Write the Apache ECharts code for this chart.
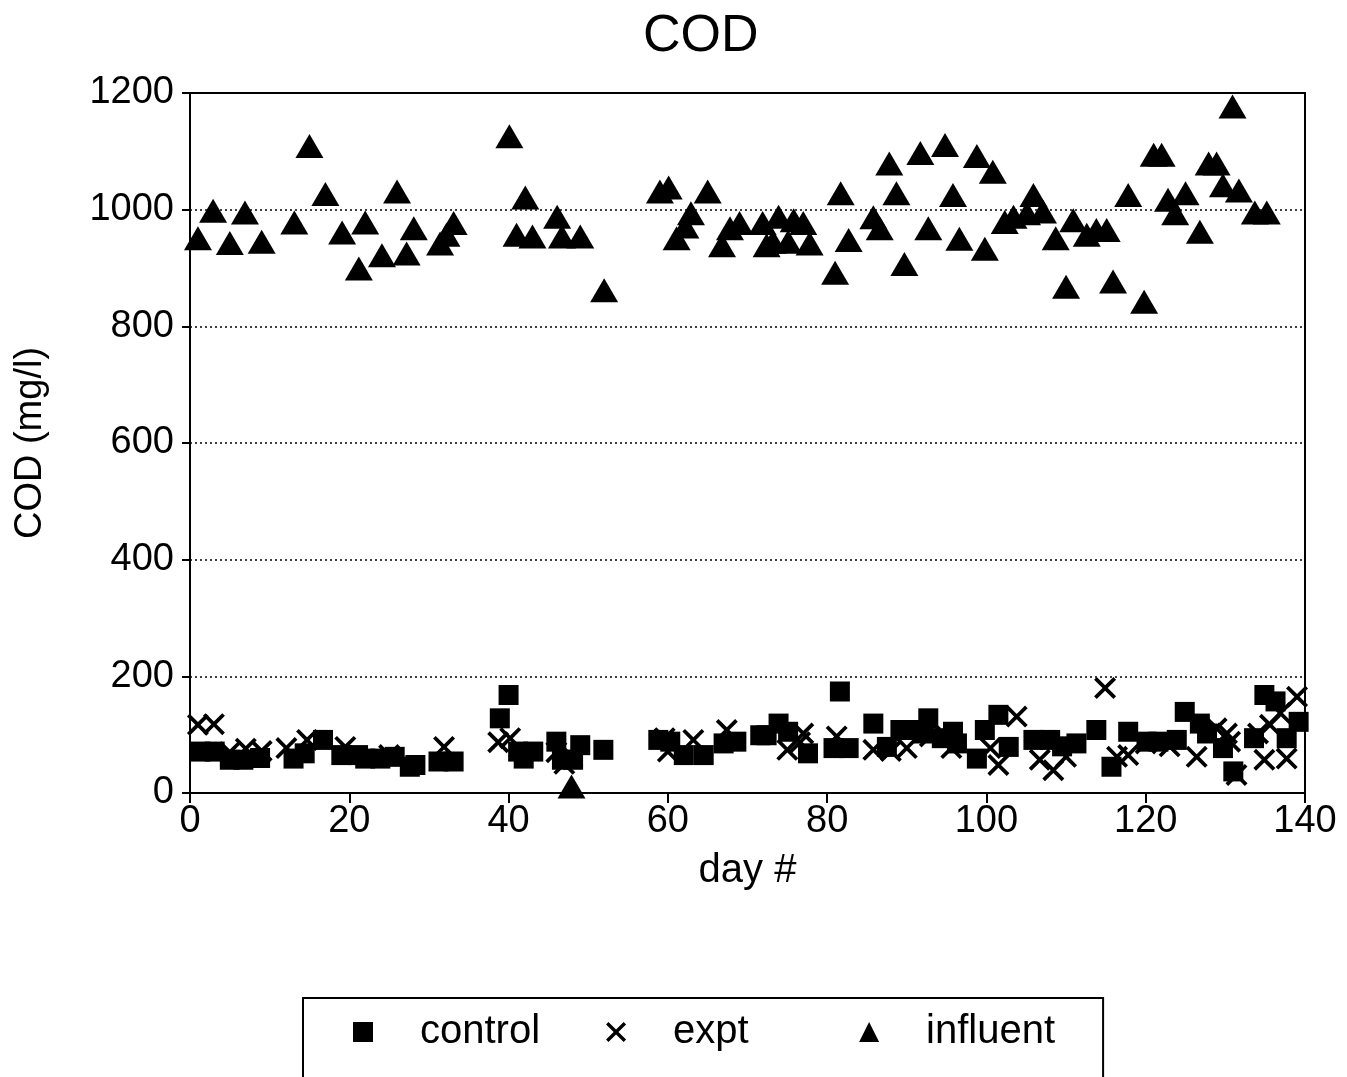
<!DOCTYPE html>
<html>
<head>
<meta charset="utf-8">
<script src="https://cdn.jsdelivr.net/npm/echarts@6/dist/echarts.min.js"></script>
<style>
html,body{margin:0;padding:0;background:#fff;}
#chart{width:1347px;height:1077px;}
</style>
</head>
<body>
<div id="chart"></div>
<script>
// ---- data ----
var xTicks = [0, 20, 40, 60, 80, 100, 120, 140];
var yTicks = [0, 200, 400, 600, 800, 1000, 1200];

var controlDays = [1.3,3.1,5,6.7,8.8,13,14.4,16.7,19,21.1,22,23.9,25.7,27.6,28.3,31.2,33.1,
  38.9,40,41.2,41.9,43.1,46,46.7,48.1,49,51.9,58.8,60.3,62,64.5,67,68.6,71.6,72.4,73.9,75.1,77.6,
  80.8,81.6,82.7,85.8,87.5,89.2,91,92.1,92.7,94.4,95.8,96.3,98.8,99.8,101.5,102.8,105.9,108,109.5,
  111.3,113.8,115.7,117.8,120.1,121.6,123.9,124.9,126.8,127.7,129.7,131,133.6,134.9,136.3,137.7,139.2];
var controlValues = [71,71,57,57,60,59,68,91,65,65,59,59,62,45,48,54,54,
  128,168,71,59,71,88,57,57,82,74,91,88,65,65,85,88,99,99,119,105,68,
  77,174,77,119,79,108,108,102,128,94,105,85,59,108,134,79,91,91,80,
  85,108,45,105,88,88,91,139,119,102,77,37,94,168,157,94,122];

var exptDays = [1,3,5,7,9,12.1,14.7,19.5,25,31.9,38.7,40.2,46,47,48,59.6,60,63.2,67.4,
  75,76.6,77,81.2,85.8,88,90,92.9,95.6,100.5,101.5,103.8,106.7,108.4,110,
  114.9,116.4,117.8,120,123,126.4,128.9,130.2,130.6,131.4,134.1,134.9,135.6,136.9,137.7,139];
var exptValues = [117,118,70,76,72,77,91,79,65,79,87,94,70,50,62,94,71,91,108,
  74,87,102,97,74,72,77,97,77,77,48,131,57,39,62,
  180,62,65,85,80,62,111,102,88,31,102,57,117,137,59,165];

var influentDays = [1,2.9,5,6.9,9,13.1,15,17,19.1,21.2,22,24.1,26,27.2,28.1,31.4,32.2,33.1,
  40.1,41,42.1,43,46.1,46.7,47.9,49,52,59,60.1,61.1,62.2,62.9,65,66.8,67.8,69,71.9,72.4,
  73.2,73.9,75.1,75.8,77,77.8,81,81.7,82.7,85.8,86.6,87.8,88.7,89.7,91.7,92.7,94.8,95.8,96.6,
  98.8,99.8,100.8,102.3,103.4,105.1,105.9,107.1,108.7,110,110.9,112.6,113.8,115.1,115.9,117.8,119.8,
  121,122,122.8,123.7,125,126.8,127.9,128.9,129.7,130.9,131.7,133.7,135.2];
var influentValues = [951,998,943,995,945,978,1109,1027,961,899,978,922,1031,925,968,942,957,977,
  1126,957,1021,954,988,954,11,954,862,1031,1038,951,971,994,1031,939,968,977,977,939,
  945,988,945,982,977,942,892,1028,948,987,968,1079,1028,907,1097,968,1111,1025,950,
  1092,933,1065,979,988,994,1025,997,951,868,982,957,965,965,877,1025,842,
  1094,1094,1017,994,1028,962,1079,1079,1042,1177,1033,995,995];

function pairs(xs, ys) { return xs.map(function (x, i) { return [x, ys[i]]; }); }

var FONT = 'Liberation Sans, Arial, Helvetica, sans-serif';
var crossPath = 'path://M0,1.2L1.2,0L5,3.8L8.8,0L10,1.2L6.2,5L10,8.8L8.8,10L5,6.2L1.2,10L0,8.8L3.8,5Z';

var chart = echarts.init(document.getElementById('chart'), null, {renderer: 'canvas'});
chart.setOption({
  animation: false,
  backgroundColor: '#fff',
  title: {
    text: 'COD', left: 638, top: 6,
    textStyle: {fontFamily: FONT, fontSize: 52, fontWeight: 'normal', color: '#000'}
  },
  grid: {
    left: 190, right: 42, top: 93, bottom: 284,
    show: true, borderColor: '#000', borderWidth: 2, backgroundColor: 'transparent'
  },
  xAxis: {
    type: 'value', min: 0, max: 140, interval: 20,
    name: 'day #', nameLocation: 'middle', nameGap: 58,
    nameTextStyle: {fontFamily: FONT, fontSize: 40, color: '#000'},
    axisLine: {show: true, onZero: false, lineStyle: {color: '#000', width: 2}},
    axisTick: {show: true, inside: false, length: 10, lineStyle: {color: '#000', width: 2}},
    axisLabel: {fontFamily: FONT, fontSize: 38, color: '#000', margin: 10,
      formatter: function (v) { return xTicks.indexOf(v) >= 0 ? String(v) : ''; }},
    splitLine: {show: false}
  },
  yAxis: {
    type: 'value', min: 0, max: 1200, interval: 200,
    name: 'COD (mg/l)', nameLocation: 'middle', nameGap: 140, nameRotate: 90,
    nameTextStyle: {fontFamily: FONT, fontSize: 38, color: '#000'},
    axisLine: {show: true, lineStyle: {color: '#000', width: 2}},
    axisTick: {show: true, inside: false, length: 8, lineStyle: {color: '#000', width: 2}},
    axisLabel: {fontFamily: FONT, fontSize: 38, color: '#000', margin: 16,
      formatter: function (v) { return yTicks.indexOf(v) >= 0 ? String(v) : ''; }},
    splitLine: {show: true, lineStyle: {color: '#000', width: 1.5, type: [2, 3]}}
  },
  legend: {
    left: 303, top: 998,
    orient: 'horizontal',
    borderColor: '#000', borderWidth: 2,
    padding: [14, 48, 60, 50],
    itemWidth: 20, itemHeight: 20, itemGap: 66,
    textStyle: {fontFamily: FONT, fontSize: 40, color: '#000', padding: [0, 0, 0, 42]},
    formatter: function (name) { return name === 'expt' ? name + '    ' : name; },
    data: ['control', 'expt', 'influent']
  },
  series: [
    {
      name: 'control', type: 'scatter', symbol: 'rect', symbolSize: 20,
      itemStyle: {color: '#000', opacity: 1}, data: pairs(controlDays, controlValues), z: 3
    },
    {
      name: 'expt', type: 'scatter', symbol: crossPath, symbolSize: 22,
      itemStyle: {color: '#000', opacity: 1}, data: pairs(exptDays, exptValues), z: 4
    },
    {
      name: 'influent', type: 'scatter', symbol: 'triangle', symbolSize: [28, 24],
      itemStyle: {color: '#000', opacity: 1}, data: pairs(influentDays, influentValues), z: 5
    }
  ]
});
</script>
</body>
</html>
